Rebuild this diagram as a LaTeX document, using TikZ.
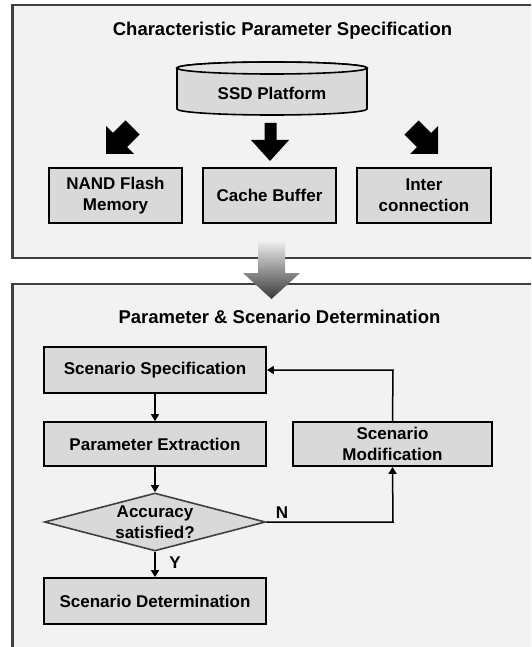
\documentclass[tikz,border=0pt]{standalone}
\usepackage{fontspec}
\setmainfont{Liberation Sans}
\usetikzlibrary{shapes.geometric,arrows.meta}

\definecolor{panelfill}{HTML}{F2F2F2}
\definecolor{panelline}{HTML}{404040}
\definecolor{boxfill}{HTML}{D9D9D9}
\definecolor{capfill}{HTML}{E4E4E4}

\tikzset{
  panel/.style={draw=panelline, line width=2.4pt, fill=panelfill},
  box/.style={draw=black, line width=1.8pt, fill=boxfill, align=center,
    inner sep=0pt, font=\bfseries\fontsize{17}{21}\selectfont},
  paneltitle/.style={font=\bfseries\fontsize{18.5}{22}\selectfont},
  branch/.style={font=\bfseries\fontsize{17}{21}\selectfont},
  flow/.style={line width=1.5pt, draw=black, -{Triangle[length=7pt,width=8pt]}},
  blockarrow/.style={fill=black},
}

\begin{document}
\begin{tikzpicture}[x=1pt, y=-1pt]
  \clip (0,0) rectangle (531,647);
  \fill[white] (0,0) rectangle (531,647);

  % the two panels
  \draw[panel] (12.5,5) rectangle (545,258);
  \draw[panel] (12.5,284) rectangle (545,665);

  % ---------- upper panel ----------
  \node[paneltitle] (title1) at (282.5,31) {Characteristic Parameter Specification};

  % SSD platform drum
  \filldraw[fill=boxfill, draw=black, line width=1.6pt]
    (177,68) -- (177,109)
    arc[start angle=180, end angle=0, x radius=95, y radius=6]
    -- (367,68)
    arc[start angle=0, end angle=-180, x radius=95, y radius=6] -- cycle;
  \filldraw[fill=capfill, draw=black, line width=1.6pt]
    (272,68) ellipse[x radius=95, y radius=6];
  \node[font=\bfseries\fontsize{17}{21}\selectfont] (ssd) at (272,93) {SSD Platform};

  % block arrows
  \fill[blockarrow] (106,154) -- (106,126) -- (112.9,132.9) -- (125.4,120.4)
    -- (139.6,134.6) -- (127.1,147.1) -- (134,154) -- cycle;
  \fill[blockarrow] (264.5,123) -- (276.5,123) -- (276.5,140) -- (289,140)
    -- (270,161) -- (251,140) -- (264.5,140) -- cycle;
  \fill[blockarrow] (438,154) -- (438,126) -- (431.1,132.9) -- (418.6,120.4)
    -- (404.4,134.6) -- (416.9,147.1) -- (410,154) -- cycle;

  % component boxes
  \node[box, minimum width=133pt, minimum height=55pt] (nand) at (115.5,195.5)
    {NAND Flash\\Memory};
  \node[box, minimum width=133pt, minimum height=55pt] (cache) at (269.5,195.5)
    {Cache Buffer};
  \node[box, minimum width=134pt, minimum height=55pt] (inter) at (424,195.5)
    {Inter\\connection};

  % ---------- lower panel ----------
  \node[paneltitle] (title2) at (279.5,317) {Parameter \& Scenario Determination};

  \node[box, minimum width=222pt, minimum height=46pt] (spec) at (155,370)
    {Scenario Specification};
  \node[box, minimum width=222pt, minimum height=44pt] (extr) at (155,444)
    {Parameter Extraction};
  \node[box, minimum width=199pt, minimum height=44pt] (mod) at (392.5,444)
    {Scenario\\Modification};
  \node[diamond, draw=panelline, line width=1.6pt, fill=boxfill, inner sep=0pt,
    aspect=3.8, minimum width=221pt, minimum height=58pt] (acc) at (155,522) {};
  \node[font=\bfseries\fontsize{17}{21}\selectfont, align=center] (acctext) at (acc)
    {Accuracy\\satisfied?};
  \node[box, minimum width=222pt, minimum height=46pt] (det) at (155,601)
    {Scenario Determination};

  \coordinate (turnN) at (393,522);
  \coordinate (turnUp) at (393,370);

  \draw[flow] (spec) -- (extr);
  \draw[flow] (extr) -- (acc.north);
  \draw[flow] (acc.south) -- (det);
  \draw[flow] (acc.east) -- (turnN) -- (mod.south);
  \draw[flow] (mod.north) -- (turnUp) -- (spec.east);

  \node[branch] (labN) at (282,513) {N};
  \node[branch] (labY) at (175,563) {Y};

  % transition arrow between the panels
  \shade[top color=white!92!black, bottom color=black!78]
    (258,242) -- (285,242) -- (285,273) -- (300,273) -- (271.5,299)
    -- (243,273) -- (258,273) -- cycle;
\end{tikzpicture}
\end{document}
